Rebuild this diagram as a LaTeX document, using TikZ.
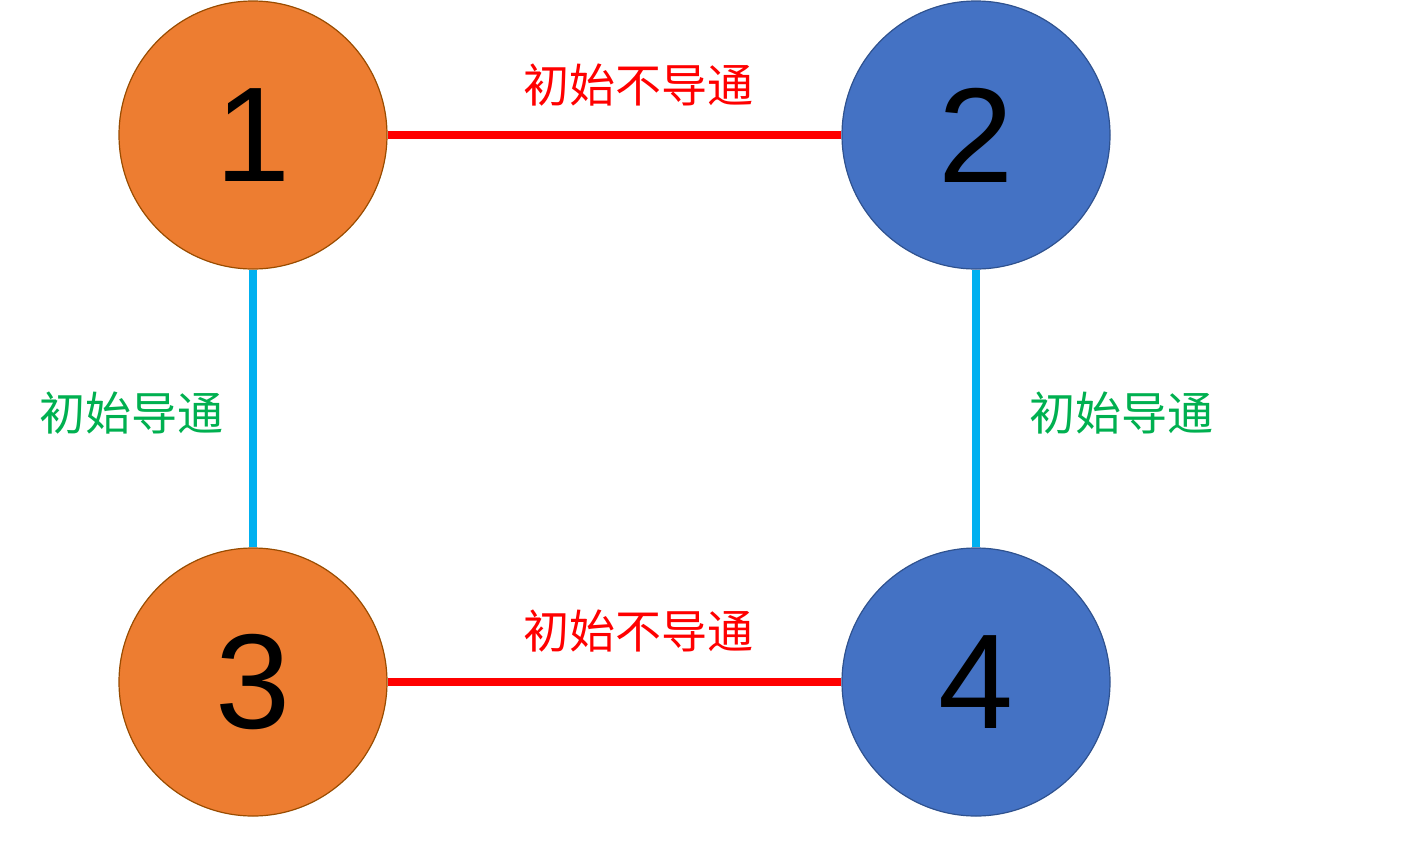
\documentclass[tikz,border=0pt]{standalone}
\usepackage{fontspec}
\setmainfont{Liberation Sans}
\newfontfamily\cjk{Noto Sans CJK SC}
\begin{document}
\begin{tikzpicture}[x=1pt,y=-1pt,
  orange/.style={circle,draw=orange!60!black,line width=1.2pt,fill={rgb,255:red,237;green,125;blue,49},minimum size=268pt,inner sep=0pt,font=\fontsize{135}{135}\selectfont},
  blue/.style={circle,draw={rgb,255:red,47;green,82;blue,143},line width=1.2pt,fill={rgb,255:red,68;green,114;blue,196},minimum size=268pt,inner sep=0pt,font=\fontsize{135}{135}\selectfont},
  redl/.style={draw=red,line width=8pt},
  cyanl/.style={draw={rgb,255:red,0;green,176;blue,240},line width=8pt},
  rlab/.style={text=red,font=\cjk\fontsize{46}{46}\selectfont},
  glab/.style={text={rgb,255:red,0;green,176;blue,80},font=\cjk\fontsize{46}{46}\selectfont}]
\useasboundingbox (0,0) rectangle (1406,847);
\node[orange] (n1) at (253,135) {1};
\node[blue] (n2) at (976,135) {2};
\node[orange] (n3) at (253,682) {3};
\node[blue] (n4) at (976,682) {4};
\draw[redl] (n1) -- (n2);
\draw[redl] (n3) -- (n4);
\draw[cyanl] (n1) -- (n3);
\draw[cyanl] (n2) -- (n4);
\node[rlab] (t1) at (638,85) {初始不导通};
\node[rlab] (t2) at (638,631) {初始不导通};
\node[glab] (t3) at (131,413) {初始导通};
\node[glab] (t4) at (1121,413) {初始导通};
\end{tikzpicture}
\end{document}
